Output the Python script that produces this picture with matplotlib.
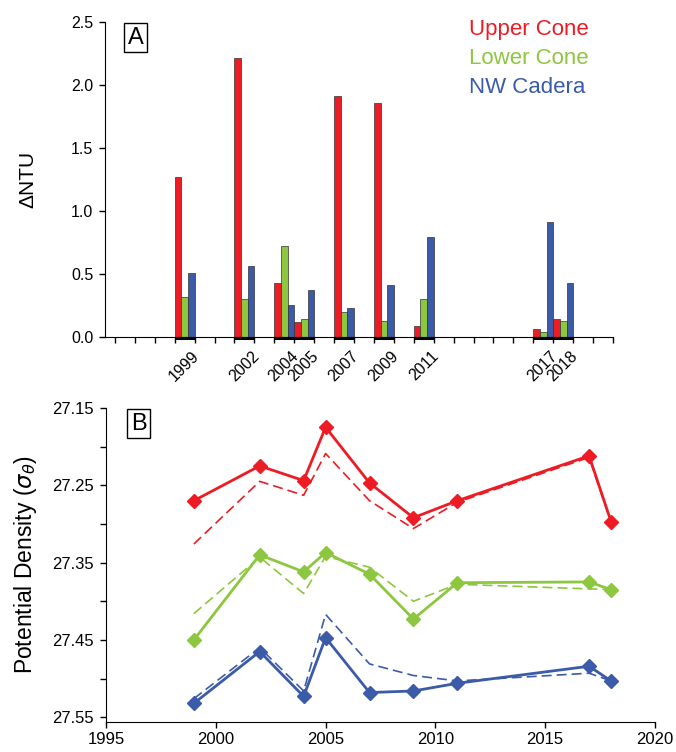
import matplotlib
matplotlib.use("Agg")
import matplotlib.pyplot as plt
import numpy as np

plt.rcParams['font.family'] = ['Liberation Sans', 'DejaVu Sans']

# ---- panel A data (delta NTU) ----
years_a = [1999, 2002, 2004, 2005, 2007, 2009, 2011, 2017, 2018]
upper_ntu = [1.27, 2.21, 0.43, 0.12, 1.91, 1.86, 0.09, 0.06, 0.14]
lower_ntu = [0.32, 0.30, 0.72, 0.14, 0.20, 0.13, 0.30, 0.04, 0.13]
nw_ntu = [0.51, 0.56, 0.25, 0.37, 0.23, 0.41, 0.79, 0.91, 0.43]

# ---- panel B data (potential density) ----
years_b = [1999, 2002, 2004, 2005, 2007, 2009, 2011, 2017, 2018]
upper_sig = [27.270, 27.225, 27.244, 27.175, 27.247, 27.292, 27.270, 27.212, 27.297]
upper_sig_d = [27.326, 27.245, 27.263, 27.209, 27.270, 27.306, 27.272, 27.214, 27.298]
lower_sig = [27.450, 27.340, 27.362, 27.337, 27.365, 27.423, 27.376, 27.375, 27.385]
lower_sig_d = [27.416, 27.343, 27.390, 27.342, 27.356, 27.400, 27.378, 27.384, 27.385]
nw_sig = [27.532, 27.465, 27.523, 27.447, 27.518, 27.516, 27.506, 27.484, 27.503]
nw_sig_d = [27.526, 27.460, 27.516, 27.417, 27.481, 27.496, 27.503, 27.493, 27.503]

red = '#ED1C24'
green = '#8DC63F'
blue = '#3B5BA9'

fig = plt.figure(figsize=(6.76, 7.52), dpi=100)

# ---------- A ----------
ax1 = fig.add_axes([0.1553, 0.5519, 0.7515, 0.4189])
w = 1.0 / 3
x = np.array(years_a, dtype=float)
for i, (vals, c) in enumerate([(upper_ntu, red), (lower_ntu, green), (nw_ntu, blue)]):
    ax1.bar(x + i * w, vals, width=w, align='edge', color=c,
            edgecolor='#333333', linewidth=0.5, zorder=2)
# black marks under the sampled years
ax1.hlines([-0.011] * len(x), x, x + 1, colors='black', linewidth=2.2,
           clip_on=False, zorder=3)

ax1.set_xlim(1995.5, 2021)
ax1.set_ylim(0, 2.5)
ax1.set_xticks(np.arange(1996, 2022))
ax1.set_xticklabels([])
ax1.tick_params(axis='x', direction='out', length=4, width=1)
for yr in years_a:
    ax1.text(yr + 0.85, -0.09, str(yr), rotation=45, rotation_mode='anchor',
             ha='right', va='top', fontsize=11.5)
ax1.set_yticks(np.arange(0, 2.51, 0.5))
ax1.set_yticklabels(['%.1f' % v for v in np.arange(0, 2.51, 0.5)], fontsize=11.5)
ax1.tick_params(axis='y', direction='out', length=4, width=1, pad=4.5)
ax1.spines['top'].set_visible(False)
ax1.spines['right'].set_visible(False)
ax1.set_ylabel('\u0394NTU', fontsize=15, labelpad=24)
ax1.text(0.045, 0.985, 'A', transform=ax1.transAxes, fontsize=17, ha='left', va='top',
         bbox=dict(boxstyle='square,pad=0.15', fc='white', ec='black', lw=1))
ax1.text(0.717, 1.008, 'Upper Cone', color=red, transform=ax1.transAxes, fontsize=16, va='top')
ax1.text(0.717, 0.916, 'Lower Cone', color=green, transform=ax1.transAxes, fontsize=16, va='top')
ax1.text(0.717, 0.824, 'NW Cadera', color=blue, transform=ax1.transAxes, fontsize=16, va='top')

# ---------- B ----------
ax2 = fig.add_axes([0.1568, 0.0404, 0.8121, 0.4172])
for solid, dashed, c in [(upper_sig, upper_sig_d, red), (lower_sig, lower_sig_d, green),
                         (nw_sig, nw_sig_d, blue)]:
    ax2.plot(years_b, dashed, '--', color=c, linewidth=1.2, dashes=(6, 3))
    ax2.plot(years_b, solid, '-', color=c, linewidth=2, marker='D', markersize=7.5)

ax2.set_xlim(1995, 2020)
ax2.set_ylim(27.5556, 27.15)
ax2.set_xticks(np.arange(1995, 2021, 5))
ax2.set_yticks(np.arange(27.15, 27.56, 0.1))
ax2.set_yticklabels(['%.2f' % v for v in np.arange(27.15, 27.56, 0.1)])
ax2.set_yticks(np.arange(27.20, 27.56, 0.1), minor=True)
ax2.tick_params(axis='both', which='both', direction='out', length=4, width=1, labelsize=12)
ax2.tick_params(axis='y', which='both', pad=4.5)
ax2.spines['top'].set_visible(False)
ax2.spines['right'].set_visible(False)
ax2.set_ylabel(r'Potential Density ($\sigma_\theta$)', fontsize=16.5, labelpad=10)
ax2.text(0.045, 0.985, 'B', transform=ax2.transAxes, fontsize=17, ha='left', va='top',
         bbox=dict(boxstyle='square,pad=0.15', fc='white', ec='black', lw=1))

fig.savefig('out.png', dpi=100)
